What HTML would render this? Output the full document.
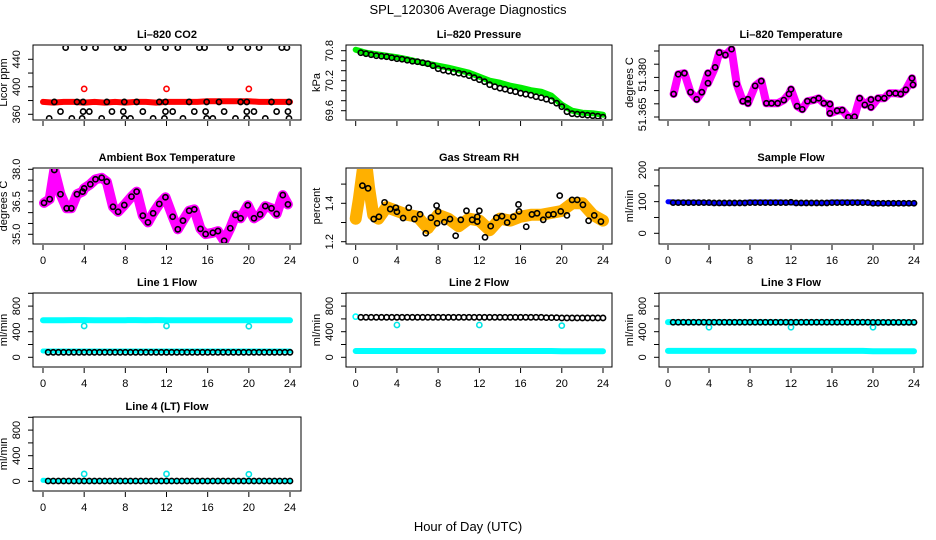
<!DOCTYPE html>
<html><head><meta charset="utf-8">
<style>
html,body{margin:0;padding:0;background:#fff;}
svg{display:block;font-family:"Liberation Sans",sans-serif;}
</style></head>
<body>
<svg id="chart" width="936" height="540" viewBox="0 0 936 540" xmlns="http://www.w3.org/2000/svg">
<text x="468" y="14" text-anchor="middle" font-size="13">SPL_120306  Average Diagnostics</text>
<text x="468" y="531" text-anchor="middle" font-size="13">Hour of Day (UTC)</text>
</svg>
<script>
// ---------- data ----------
const xTicks = [0,4,8,12,16,20,24];
const halfHours = [0.5,1,1.5,2,2.5,3,3.5,4,4.5,5,5.5,6,6.5,7,7.5,8,8.5,9,9.5,10,10.5,11,11.5,12,12.5,13,13.5,14,14.5,15,15.5,16,16.5,17,17.5,18,18.5,19,19.5,20,20.5,21,21.5,22,22.5,23,23.5,24];
const hourly = [0,1,2,3,4,5,6,7,8,9,10,11,12,13,14,15,16,17,18,19,20,21,22,23,24];
const calHours = [4,12,20];

// Li-820 CO2
const co2Hours = [2.2,4.0,5.1,7.2,7.8,10.2,11.9,13.1,15.2,15.7,18.2,19.9,21.0,23.2,23.7,
  1.1,3.3,3.9,6.2,7.9,9.1,11.3,11.9,14.2,15.9,17.1,19.2,19.8,22.2,23.9,
  1.7,3.9,4.5,6.7,7.8,9.7,11.9,12.6,14.7,15.8,17.6,19.8,20.5,22.7,23.8,
  0.6,2.8,3.8,5.7,7.9,8.5,10.7,11.8,13.6,15.9,16.5,18.7,19.8,21.6,23.9];
const co2Vals = [457,457,457,457,457,457,457,457,457,457,457,457,457,457,457,
  378,378,378,378,378,378,378,378,378,378,378,378,378,378,378,
  364,364,364,364,364,364,364,364,364,364,364,364,364,364,364,
  354,354,354,354,354,354,354,354,354,354,354,354,354,354,354];
const co2RedVals = [378,377,378,378,377,378,377,378,377,378,378,377,378,378,378,378,379,379,379,379,379,378,378,378,378];
const co2CalVals = [397,397,397];

// Li-820 Pressure
const presVals = [70.76,70.74,70.72,70.70,70.69,70.68,70.66,70.64,70.63,70.61,70.59,70.58,70.56,70.54,70.50,70.44,70.41,70.39,70.37,70.35,70.33,70.30,70.26,70.22,70.18,70.12,70.08,70.05,70.03,70.00,69.98,69.95,69.93,69.91,69.88,69.86,69.83,69.80,69.75,69.68,69.58,69.54,69.53,69.52,69.51,69.50,69.49,69.47];
const presGreenVals = [70.82,70.76,70.73,70.70,70.67,70.63,70.58,70.54,70.50,70.46,70.41,70.36,70.28,70.20,70.16,70.10,70.06,70.01,69.98,69.90,69.72,69.60,69.56,69.55,69.52];

// Li-820 Temperature
const tempHours = [0.55,1.0,1.6,2.2,2.8,3.3,3.9,3.9,4.6,5.0,5.6,6.2,6.7,7.3,7.8,7.8,8.5,9.1,9.6,10.1,10.7,11.3,11.8,12.0,12.6,13.1,13.6,14.2,14.7,15.2,15.8,15.8,16.5,17.0,17.6,18.2,18.7,19.2,19.8,19.8,20.5,21.1,21.6,22.2,22.7,23.2,23.8,23.9];
const tempVals = [51.3737,51.3812,51.3816,51.3744,51.3717,51.3744,51.3816,51.3778,51.3838,51.3894,51.3885,51.3907,51.3775,51.3710,51.3717,51.3702,51.3768,51.3786,51.3702,51.3702,51.3702,51.3714,51.3737,51.3755,51.3691,51.3679,51.3710,51.3714,51.3721,51.3702,51.3699,51.3664,51.3674,51.3676,51.3649,51.3651,51.3721,51.3696,51.3716,51.3687,51.3721,51.3721,51.3740,51.3740,51.3737,51.3753,51.3797,51.3772];

// Ambient Box Temperature
const ambHours = [0.1,0.65,1.1,1.7,2.3,2.75,3.3,3.85,4.0,4.6,5.1,5.7,6.2,6.8,7.3,7.9,8.6,9.1,9.7,10.2,10.7,11.3,11.9,12.6,13.1,13.6,14.2,14.7,15.3,15.8,16.5,17.0,17.6,18.2,18.7,19.2,19.9,20.5,21.1,21.6,22.2,22.7,23.3,23.8];
const ambVals = [36.45,36.62,37.97,36.85,36.2,36.2,36.85,36.97,37.12,37.31,37.54,37.61,37.43,36.27,36.04,36.35,36.74,36.97,35.86,35.55,35.97,36.4,36.71,35.81,35.23,35.63,36.09,36.15,35.25,35.01,35.07,35.15,34.7,35.28,35.89,35.74,36.34,35.74,35.92,36.3,36.2,35.94,36.81,36.38];

// Gas Stream RH
const rhHours = [0.65,1.2,1.75,2.25,2.8,3.35,3.9,4.0,4.6,5.15,5.7,6.25,6.8,7.3,7.85,7.9,8.0,8.6,9.15,9.7,10.2,10.75,11.3,11.8,11.8,12.0,12.55,13.1,13.65,14.2,14.7,15.3,15.8,15.85,16.55,17.1,17.6,18.2,18.7,19.2,19.8,19.9,20.5,21.0,21.5,22.05,22.6,23.15,23.8];
const rhVals = [1.492,1.478,1.318,1.330,1.405,1.370,1.377,1.356,1.323,1.377,1.318,1.343,1.244,1.325,1.388,1.296,1.358,1.302,1.318,1.231,1.314,1.361,1.314,1.330,1.305,1.361,1.223,1.281,1.325,1.333,1.300,1.330,1.394,1.358,1.278,1.342,1.348,1.314,1.340,1.343,1.440,1.358,1.337,1.418,1.418,1.392,1.309,1.337,1.305];
const rhBandHours = [0,0.3,0.7,1.0,1.3,1.7,2.2,3,4,5,6,7,8,9,10,11,12,13,14,15,16,17,18,19,20,21,22,23,24];
const rhBandVals = [1.32,1.42,1.58,1.62,1.48,1.34,1.32,1.38,1.36,1.34,1.33,1.27,1.34,1.32,1.28,1.32,1.31,1.26,1.32,1.31,1.33,1.34,1.34,1.35,1.36,1.40,1.40,1.34,1.31];

// Sample Flow
const sampleVals = [97,97,97,97,97,97,97,97,96,96,96,96,96,96,96,97,97,97,97,97,97,97,97,98,96,96,96,96,96,96,96,97,97,97,97,97,97,97,97,95,95,95,95,95,95,95,95,95];
const sampleBlueVals = [100,98,98,98,96,95,95,96,99,99,99,99,96,95,96,95,99,99,99,99,94,94,94,94,94];

// Line flows
const line1Black = [78,78,78,78,78,78,78,78,78,78,78,78,78,78,78,78,78,78,78,78,78,78,78,78,78,78,78,78,78,78,78,78,78,78,78,78,78,78,78,78,78,78,78,78,78,78,78,78];
const line1Cyan = [580,580,580,582,582,580,580,580,580,582,580,582,580,580,580,580,580,580,580,580,580,580,580,580,578];
const line1CyanLow = [98,98,98,98,98,98,98,98,98,98,98,98,98,98,98,98,98,98,98,98,98,98,98,98,98];
const line1Cal = [490,490,485];

const line2Black = [625,625,625,625,625,625,625,625,625,625,625,625,625,625,625,625,625,625,625,625,625,625,625,625,625,625,625,625,625,625,625,625,625,625,625,625,620,620,620,615,615,615,615,615,615,615,615,615];
const line2CyanLow = [98,98,98,98,98,98,98,98,98,98,98,98,98,98,98,98,98,98,98,98,96,96,96,96,96];
const line2Cal = [505,505,495];
const line2Start = [635];

const line3Black = [548,548,548,548,548,548,548,548,548,548,548,548,548,548,548,548,548,548,548,548,548,548,548,548,548,548,548,548,548,548,548,548,548,548,548,548,548,548,548,546,546,546,546,546,546,546,546,546];
const line3Cyan = [550,550,550,550,550,550,550,550,550,550,550,550,550,550,550,550,550,550,550,550,548,548,548,548,548];
const line3CyanLow = [100,100,100,100,100,100,100,100,100,100,100,100,100,100,100,100,100,100,100,100,96,96,96,96,96];
const line3Cal = [470,470,470];

const line4Black = [5,5,5,5,5,5,5,5,5,5,5,5,5,5,5,5,5,5,5,5,5,5,5,5,5,5,5,5,5,5,5,5,5,5,5,5,5,5,5,5,5,5,5,5,5,5,5,5];
const line4Cyan = [15,5,5,5,5,5,5,5,5,5,5,5,5,5,5,5,5,5,5,5,5,5,5,5,5];
const line4Cal = [115,115,110];

// ---------- drawing ----------
const NS = 'http://www.w3.org/2000/svg';
const svg = document.getElementById('chart');
function mk(tag, attrs, parent){
  const e = document.createElementNS(NS, tag);
  for (const k in attrs) e.setAttribute(k, attrs[k]);
  (parent||svg).appendChild(e);
  return e;
}
let clipId = 0;
function panel(o){
  const g = mk('g', {});
  
  
  const sx = v => o.xa + (v) * (o.xb - o.xa) / 24;
  const sy = v => o.yp0 + (v - o.yv0) * (o.yp1 - o.yp0) / (o.yv1 - o.yv0);
  const t = mk('text', {x:(o.bx0+o.bx1)/2, y:o.by0-7, 'text-anchor':'middle', 'font-size':'11', 'font-weight':'bold'}, g);
  t.textContent = o.title;
  
  
  const box = mk('rect', {x:o.bx0, y:o.by0, width:o.bx1-o.bx0, height:o.by1-o.by0, fill:'none', stroke:'#000', 'stroke-width':1}, g);
  
  
  const xg = mk('g', {}, g);
  
  
  xTicks.forEach(v => {
    mk('line', {x1:sx(v), x2:sx(v), y1:o.by1+1, y2:o.by1+6, stroke:'#000'}, xg);
    if (o.xlabels){
      const l = mk('text', {x:sx(v), y:o.by1+20, 'text-anchor':'middle', 'font-size':'11'}, xg);
      l.textContent = v;
    }
  });
  const yg = mk('g', {}, g);
  
  
  o.yticks.forEach(v => {
    mk('line', {x1:o.bx0-5, x2:o.bx0, y1:sy(v), y2:sy(v), stroke:'#000'}, yg);
  });
  o.ylabels.forEach((lab, i) => {
    const y = sy(o.ylabelVals[i]);
    const l = mk('text', {x:0, y:0, 'text-anchor':'middle', 'font-size':'11', transform:`translate(${o.bx0-13},${y}) rotate(-90)`}, yg);
    l.textContent = lab;
  });
  const yt = mk('text', {x:0, y:0, 'text-anchor':'middle', 'font-size':'11', transform:`translate(${o.bx0-26},${(o.by0+o.by1)/2}) rotate(-90)`}, g);
  yt.textContent = o.ylab;
  
  
  const id = 'c' + (clipId++);
  const cp = mk('clipPath', {id:id}, g);
  mk('rect', {x:o.bx0+1, y:o.by0+1, width:o.bx1-o.bx0-2, height:o.by1-o.by0-2}, cp);
  const dg = mk('g', {'clip-path':`url(#${id})`}, g);
  
  
  return {sx, sy, dg};
}
function band(p, hours, vals, color, w, name){
  const pts = hours.map((h,i) => p.sx(h).toFixed(1) + ',' + p.sy(vals[i]).toFixed(1)).join(' ');
  const pl = mk('polyline', {points:pts, fill:'none', stroke:color, 'stroke-width':w, 'stroke-linejoin':'round', 'stroke-linecap':'round'}, p.dg);
  
  
}
function pts(p, hours, vals, color, name, r){
  hours.forEach((h,i) => {
    const c = mk('circle', {cx:p.sx(h), cy:p.sy(vals[i]), r:r||2.6, fill:'none', stroke:color, 'stroke-width':1.6}, p.dg);
    
    
  });
}

const C1 = {bx0:33, bx1:301, xa:43, xb:290};
const C2 = {bx0:346, bx1:612, xa:355.7, xb:603};
const C3 = {bx0:659, bx1:923, xa:668, xb:914};
const R1 = {by0:45, by1:120}, R2 = {by0:168, by1:244}, R3 = {by0:293, by1:367}, R4 = {by0:417, by1:491};
const flowY = (r) => ({yv0:0, yp0:r.by1-9.7, yv1:1000, yp1:r.by1-9.7-64});

let p = panel(Object.assign({name:'co2', title:'Li\u2013820 CO2', ylab:'Licor ppm', xlabels:false,
  yv0:360, yp0:114.3, yv1:440, yp1:59.3, yticks:[360,380,400,420,440], ylabels:['360','400','440'], ylabelVals:[360,400,440]}, C1, R1));
band(p, hourly, co2RedVals, '#ff0000', 6, 'co2-red-series');
pts(p, calHours, co2CalVals, '#ff0000', 'co2-cal-point');
pts(p, co2Hours, co2Vals, '#000', 'co2-black-point');

p = panel(Object.assign({name:'pressure', title:'Li\u2013820 Pressure', ylab:'kPa', xlabels:false,
  yv0:70.8, yp0:50.7, yv1:69.6, yp1:110.7, yticks:[69.6,69.8,70.0,70.2,70.4,70.6,70.8], ylabels:['69.6','70.2','70.8'], ylabelVals:[69.6,70.2,70.8]}, C2, R1));
band(p, hourly, presGreenVals, '#00ee00', 6, 'pressure-green-series');
pts(p, halfHours, presVals, '#000', 'pressure-black-point');

p = panel(Object.assign({name:'li820-temp', title:'Li\u2013820 Temperature', ylab:'degrees C', xlabels:false,
  yv0:51.365, yp0:117, yv1:51.390, yp1:51, yticks:[51.365,51.370,51.375,51.380,51.385,51.390], ylabels:['51.365','51.380'], ylabelVals:[51.366,51.381]}, C3, R1));
band(p, tempHours, tempVals, '#ff00ff', 8, 'li820-temp-magenta-series');
pts(p, tempHours, tempVals, '#000', 'li820-temp-black-point');

p = panel(Object.assign({name:'ambient-temp', title:'Ambient Box Temperature', ylab:'degrees C', xlabels:true,
  yv0:35, yp0:234.3, yv1:38, yp1:169.3, yticks:[35,35.5,36,36.5,37,37.5,38], ylabels:['35.0','36.5','38.0'], ylabelVals:[35,36.5,38]}, C1, R2));
band(p, ambHours, ambVals, '#ff00ff', 10, 'ambient-temp-magenta-series');
pts(p, ambHours, ambVals, '#000', 'ambient-temp-black-point');

p = panel(Object.assign({name:'gas-rh', title:'Gas Stream RH', ylab:'percent', xlabels:true,
  yv0:1.2, yp0:241.7, yv1:1.4, yp1:203.3, yticks:[1.2,1.3,1.4,1.5], ylabels:['1.2','1.4'], ylabelVals:[1.2,1.4]}, C2, R2));
band(p, rhBandHours, rhBandVals, '#ffb000', 12, 'gas-rh-orange-series');
pts(p, rhHours, rhVals, '#000', 'gas-rh-black-point');

p = panel(Object.assign({name:'sample-flow', title:'Sample Flow', ylab:'ml/min', xlabels:true,
  yv0:0, yp0:233.3, yv1:200, yp1:170, yticks:[0,50,100,150,200], ylabels:['0','100','200'], ylabelVals:[0,100,200]}, C3, R2));
band(p, hourly, sampleBlueVals, '#0000ff', 5, 'sample-flow-blue-series');
pts(p, halfHours, sampleVals, '#000', 'sample-flow-black-point');

function flowPanel(name, title, col, row){
  const y = flowY(row);
  return panel(Object.assign({name:name, title:title, ylab:'ml/min', xlabels:true,
    yticks:[0,200,400,600,800,1000], ylabels:['0','400','800'], ylabelVals:[0,400,800]}, y, col, row));
}
p = flowPanel('line1-flow', 'Line 1 Flow', C1, R3);
band(p, hourly, line1Cyan, '#00ffff', 6, 'line1-cyan-series');
band(p, hourly, line1CyanLow, '#00ffff', 5, 'line1-cyan-low-series');
pts(p, calHours, line1Cal, '#00e5e5', 'line1-cal-point');
pts(p, halfHours, line1Black, '#000', 'line1-black-point');

p = flowPanel('line2-flow', 'Line 2 Flow', C2, R3);
band(p, hourly, line2CyanLow, '#00ffff', 6, 'line2-cyan-low-series');
pts(p, [0], line2Start, '#00ffff', 'line2-cyan-start');
pts(p, calHours, line2Cal, '#00e5e5', 'line2-cal-point');
pts(p, halfHours, line2Black, '#000', 'line2-black-point');

p = flowPanel('line3-flow', 'Line 3 Flow', C3, R3);
band(p, hourly, line3Cyan, '#00ffff', 6, 'line3-cyan-series');
band(p, hourly, line3CyanLow, '#00ffff', 6, 'line3-cyan-low-series');
pts(p, calHours, line3Cal, '#00e5e5', 'line3-cal-point');
pts(p, halfHours, line3Black, '#000', 'line3-black-point');

p = flowPanel('line4-flow', 'Line 4 (LT) Flow', C1, R4);
band(p, hourly, line4Cyan, '#00ffff', 5, 'line4-cyan-series');
pts(p, calHours, line4Cal, '#00e5e5', 'line4-cal-point');
pts(p, halfHours, line4Black, '#000', 'line4-black-point');
</script>
</body></html>
